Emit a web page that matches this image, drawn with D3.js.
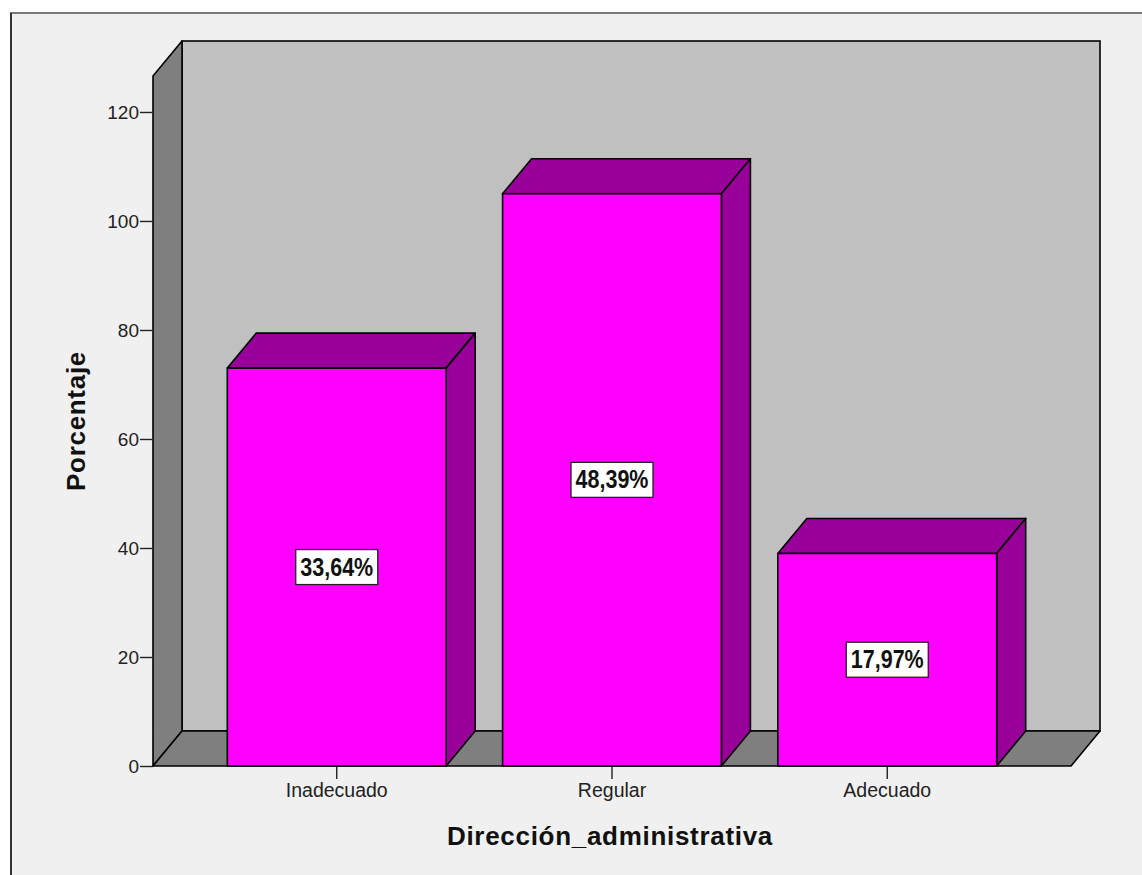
<!DOCTYPE html>
<html>
<head>
<meta charset="utf-8">
<script src="https://cdn.jsdelivr.net/npm/d3@7"></script>
<style>
  html, body { margin: 0; padding: 0; background: #ffffff; }
  svg { display: block; }
  text { font-family: "Liberation Sans", Arial, sans-serif; }
</style>
</head>
<body>
<svg id="chart" width="1142" height="875"></svg>
<script>
// Frecuencias por categoría (el rótulo muestra el porcentaje sobre el total)
const categories = ["Inadecuado", "Regular", "Adecuado"];
const counts = [73, 105, 39];
const yTicks = [0, 20, 40, 60, 80, 100, 120];
const xTitle = "Dirección_administrativa";
const yTitle = "Porcentaje";

const W = 1142, H = 875;
const svg = d3.select("#chart");

// panel background and frame
svg.append("rect").attr("x", 10).attr("y", 13).attr("width", W).attr("height", H)
  .attr("fill", "#f0f0f0");
svg.append("line").attr("x1", 10).attr("x2", W).attr("y1", 13).attr("y2", 13)
  .attr("stroke", "#7a7a7a").attr("stroke-width", 2);
svg.append("line").attr("x1", 11).attr("x2", 11).attr("y1", 13).attr("y2", H)
  .attr("stroke", "#333").attr("stroke-width", 2);

// plot geometry (front plane) and depth offset of the 3D box
const x0 = 153, x1 = 1071, yBase = 766;
const depthX = 29, depthY = -35;

const y = d3.scaleLinear().domain([0, 126.6]).range([yBase, 76]);
const x = d3.scaleBand().domain(categories).range([x0, x1])
  .paddingInner(0.205).paddingOuter(0.27);

const yTop = y.range()[1];
const stroke = "#000", sw = 1.6;
const tickFont = "'Liberation Sans', Arial, sans-serif";

// back wall
svg.append("rect")
  .attr("x", x0 + depthX).attr("y", yTop + depthY)
  .attr("width", x1 - x0).attr("height", yBase - yTop)
  .attr("fill", "#c0c0c0").attr("stroke", stroke).attr("stroke-width", sw);

// left wall
const poly = pts => pts.map(p => p.join(",")).join(" ");
svg.append("polygon")
  .attr("points", poly([[x0, yBase], [x0, yTop], [x0 + depthX, yTop + depthY], [x0 + depthX, yBase + depthY]]))
  .attr("fill", "#7f7f7f").attr("stroke", stroke).attr("stroke-width", sw).attr("stroke-linejoin", "round");

// floor
svg.append("polygon")
  .attr("points", poly([[x0, yBase], [x1, yBase], [x1 + depthX, yBase + depthY], [x0 + depthX, yBase + depthY]]))
  .attr("fill", "#7f7f7f").attr("stroke", stroke).attr("stroke-width", sw).attr("stroke-linejoin", "round");

// y axis ticks and labels
const yAxis = d3.axisLeft(y).tickValues(yTicks).tickSize(13).tickPadding(1).tickFormat(d3.format("d"));
const ga = svg.append("g").attr("transform", `translate(${x0},0)`).call(yAxis);
ga.select(".domain").remove();
ga.selectAll(".tick line").attr("stroke", "#222").attr("stroke-width", 1.4);
ga.selectAll(".tick text").attr("font-size", 19).attr("fill", "#222")
  .style("font-family", tickFont);

// x axis ticks and labels
const xAxis = d3.axisBottom(x).tickSize(13).tickPadding(4);
const gx = svg.append("g").attr("transform", `translate(0,${yBase})`).call(xAxis);
gx.select(".domain").remove();
gx.selectAll(".tick line").attr("stroke", "#222").attr("stroke-width", 1.4);
gx.selectAll(".tick text").attr("font-size", 19.5).attr("fill", "#222")
  .style("font-family", tickFont);

// 3D bars
const total = d3.sum(counts);
const data = categories.map((c, i) => ({ cat: c, v: counts[i] }));
const bars = svg.append("g").selectAll("g").data(data).join("g");

bars.append("polygon") // top face
  .attr("points", d => {
    const l = x(d.cat), r = l + x.bandwidth(), t = y(d.v);
    return poly([[l, t], [r, t], [r + depthX, t + depthY], [l + depthX, t + depthY]]);
  })
  .attr("fill", "#990099").attr("stroke", stroke).attr("stroke-width", sw).attr("stroke-linejoin", "round");

bars.append("polygon") // side face
  .attr("points", d => {
    const r = x(d.cat) + x.bandwidth(), t = y(d.v);
    return poly([[r, t], [r + depthX, t + depthY], [r + depthX, yBase + depthY], [r, yBase]]);
  })
  .attr("fill", "#990099").attr("stroke", stroke).attr("stroke-width", sw).attr("stroke-linejoin", "round");

bars.append("rect") // front face
  .attr("x", d => x(d.cat)).attr("y", d => y(d.v))
  .attr("width", x.bandwidth()).attr("height", d => yBase - y(d.v))
  .attr("fill", "#ff00ff").attr("stroke", stroke).attr("stroke-width", sw);

// percentage labels in boxes (narrow bold face)
const fmt = v => (v / total * 100).toFixed(2).replace(".", ",") + "%";
bars.each(function (d) {
  const g = d3.select(this);
  const cx = x(d.cat) + x.bandwidth() / 2, cy = y(d.v / 2);
  g.append("rect")
    .attr("x", cx - 41).attr("y", cy - 17.5).attr("width", 82).attr("height", 35)
    .attr("fill", "#fff").attr("stroke", "#222").attr("stroke-width", 1.3);
  g.append("text")
    .attr("transform", `translate(${cx},${cy + 8.5}) scale(0.86,1)`)
    .attr("text-anchor", "middle").attr("font-size", 25).attr("font-weight", "bold")
    .attr("fill", "#111").text(fmt(d.v));
});

// axis titles
svg.append("text").attr("x", 610).attr("y", 845).attr("text-anchor", "middle")
  .attr("font-size", 26).attr("font-weight", "bold").attr("letter-spacing", 0.7)
  .attr("fill", "#111").text(xTitle);
svg.append("text").attr("transform", "translate(85,421) rotate(-90)")
  .attr("text-anchor", "middle").attr("font-size", 26).attr("font-weight", "bold")
  .attr("letter-spacing", 0.7).attr("fill", "#111").text(yTitle);
</script>
</body>
</html>
